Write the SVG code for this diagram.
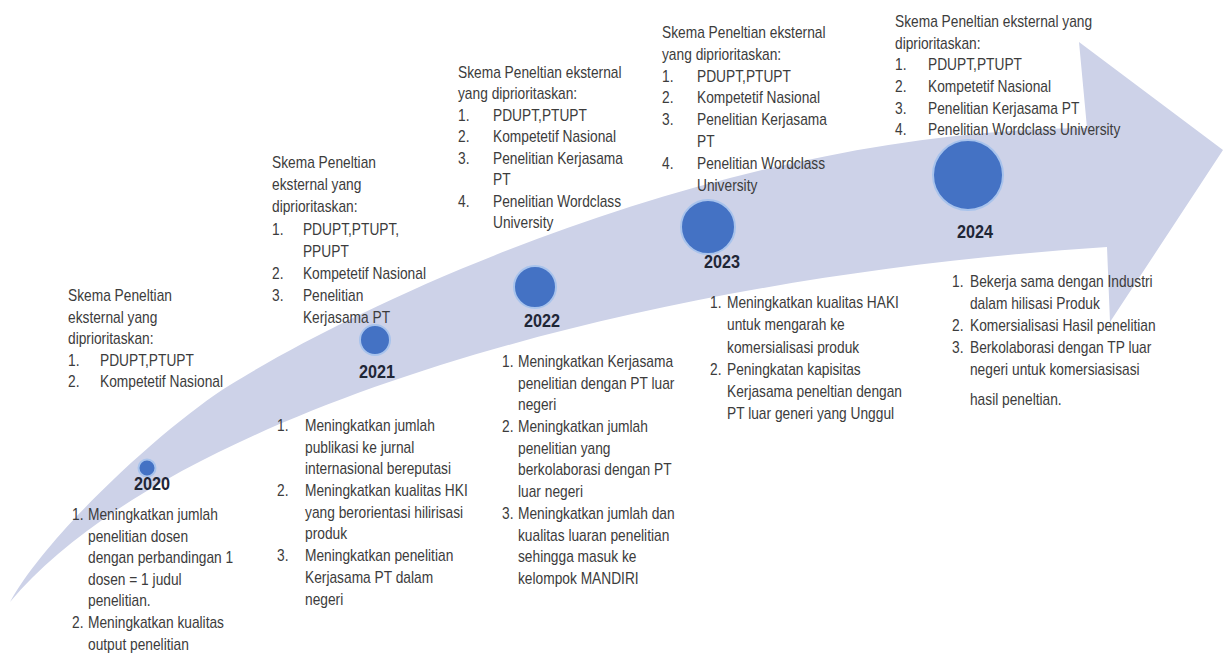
<svg xmlns="http://www.w3.org/2000/svg" width="1223" height="656" viewBox="0 0 1223 656">
<style>
.t{font-family:"Liberation Sans",Arial,sans-serif;font-size:16px;fill:#3c3c3c}
.y{font-family:"Liberation Sans",Arial,sans-serif;font-size:18px;font-weight:bold;fill:#1f2636;text-anchor:middle}
.dot{fill:#4472C4;stroke:#a8c3ec;stroke-width:2}
</style>
<rect width="1223" height="656" fill="#ffffff"/>
<g id="connectors">
<path id="timeline-arrow" d="M 10 602 C 50 530, 170 422, 230 385 C 380 292, 737 130, 1087 128 L 1079 42 L 1223 150 L 1110 322 L 1107 247 C 607 280, 160 422, 10 602 Z" fill="#cdd2e8"/>
</g>
<g id="node-2020">
<circle class="dot" cx="147" cy="468" r="8.5"/>
<text class="y" transform="translate(152 490) scale(0.9 1)">2020</text>
<g transform="translate(68 0) scale(0.86 1)">
<text class="t" x="0" y="301">Skema Peneltian</text>
<text class="t" x="0" y="322.6">eksternal yang</text>
<text class="t" x="0" y="344.2">diprioritaskan:</text>
<text class="t" x="0" y="365.8">1.</text><text class="t" x="37.2" y="365.8">PDUPT,PTUPT</text>
<text class="t" x="0" y="387.4">2.</text><text class="t" x="37.2" y="387.4">Kompetetif Nasional</text>
</g>
<g transform="translate(72 0) scale(0.86 1)">
<text class="t" x="0" y="520">1.</text><text class="t" x="18.6" y="520">Meningkatkan jumlah</text>
<text class="t" x="18.6" y="541.6">penelitian dosen</text>
<text class="t" x="18.6" y="563.2">dengan perbandingan 1</text>
<text class="t" x="18.6" y="584.8">dosen = 1 judul</text>
<text class="t" x="18.6" y="606.4">penelitian.</text>
<text class="t" x="0" y="628">2.</text><text class="t" x="18.6" y="628">Meningkatkan kualitas</text>
<text class="t" x="18.6" y="649.6">output penelitian</text>
</g>
</g>
<g id="node-2021">
<circle class="dot" cx="375" cy="340" r="15"/>
<text class="y" transform="translate(377 378) scale(0.9 1)">2021</text>
<g transform="translate(272 0) scale(0.86 1)">
<text class="t" x="0" y="168">Skema Peneltian</text>
<text class="t" x="0" y="190.2">eksternal yang</text>
<text class="t" x="0" y="212.4">diprioritaskan:</text>
<text class="t" x="0" y="234.6">1.</text><text class="t" x="36" y="234.6">PDUPT,PTUPT,</text>
<text class="t" x="36" y="256.8">PPUPT</text>
<text class="t" x="0" y="279">2.</text><text class="t" x="36" y="279">Kompetetif Nasional</text>
<text class="t" x="0" y="301.2">3.</text><text class="t" x="36" y="301.2">Penelitian</text>
<text class="t" x="36" y="323.4">Kerjasama PT</text>
</g>
<g transform="translate(277 0) scale(0.86 1)">
<text class="t" x="0" y="431">1.</text><text class="t" x="32.6" y="431">Meningkatkan jumlah</text>
<text class="t" x="32.6" y="452.7">publikasi ke jurnal</text>
<text class="t" x="32.6" y="474.4">internasional bereputasi</text>
<text class="t" x="0" y="496.1">2.</text><text class="t" x="32.6" y="496.1">Meningkatkan kualitas HKI</text>
<text class="t" x="32.6" y="517.8">yang berorientasi hilirisasi</text>
<text class="t" x="32.6" y="539.5">produk</text>
<text class="t" x="0" y="561.2">3.</text><text class="t" x="32.6" y="561.2">Meningkatkan penelitian</text>
<text class="t" x="32.6" y="582.9">Kerjasama PT dalam</text>
<text class="t" x="32.6" y="604.6">negeri</text>
</g>
</g>
<g id="node-2022">
<circle class="dot" cx="535" cy="287" r="21"/>
<text class="y" transform="translate(542 327) scale(0.9 1)">2022</text>
<g transform="translate(458 0) scale(0.86 1)">
<text class="t" x="0" y="78">Skema Peneltian eksternal</text>
<text class="t" x="0" y="99.5">yang diprioritaskan:</text>
<text class="t" x="0" y="121">1.</text><text class="t" x="40.7" y="121">PDUPT,PTUPT</text>
<text class="t" x="0" y="142.5">2.</text><text class="t" x="40.7" y="142.5">Kompetetif Nasional</text>
<text class="t" x="0" y="164">3.</text><text class="t" x="40.7" y="164">Penelitian Kerjasama</text>
<text class="t" x="40.7" y="185.5">PT</text>
<text class="t" x="0" y="207">4.</text><text class="t" x="40.7" y="207">Penelitian Wordclass</text>
<text class="t" x="40.7" y="228.5">University</text>
</g>
<g transform="translate(502 0) scale(0.86 1)">
<text class="t" x="0" y="367">1.</text><text class="t" x="18.6" y="367">Meningkatkan Kerjasama</text>
<text class="t" x="18.6" y="388.7">penelitian dengan PT luar</text>
<text class="t" x="18.6" y="410.4">negeri</text>
<text class="t" x="0" y="432.1">2.</text><text class="t" x="18.6" y="432.1">Meningkatkan jumlah</text>
<text class="t" x="18.6" y="453.8">penelitian yang</text>
<text class="t" x="18.6" y="475.5">berkolaborasi dengan PT</text>
<text class="t" x="18.6" y="497.2">luar negeri</text>
<text class="t" x="0" y="518.9">3.</text><text class="t" x="18.6" y="518.9">Meningkatkan jumlah dan</text>
<text class="t" x="18.6" y="540.6">kualitas luaran penelitian</text>
<text class="t" x="18.6" y="562.3">sehingga masuk ke</text>
<text class="t" x="18.6" y="584">kelompok MANDIRI</text>
</g>
</g>
<g id="node-2023">
<circle class="dot" cx="708" cy="227" r="27"/>
<text class="y" transform="translate(722 268) scale(0.9 1)">2023</text>
<g transform="translate(662 0) scale(0.86 1)">
<text class="t" x="0" y="38">Skema Peneltian eksternal</text>
<text class="t" x="0" y="59.8">yang diprioritaskan:</text>
<text class="t" x="0" y="81.6">1.</text><text class="t" x="40.7" y="81.6">PDUPT,PTUPT</text>
<text class="t" x="0" y="103.4">2.</text><text class="t" x="40.7" y="103.4">Kompetetif Nasional</text>
<text class="t" x="0" y="125.2">3.</text><text class="t" x="40.7" y="125.2">Penelitian Kerjasama</text>
<text class="t" x="40.7" y="147">PT</text>
<text class="t" x="0" y="168.8">4.</text><text class="t" x="40.7" y="168.8">Penelitian Wordclass</text>
<text class="t" x="40.7" y="190.6">University</text>
</g>
<g transform="translate(710 0) scale(0.86 1)">
<text class="t" x="0" y="308">1.</text><text class="t" x="19.8" y="308">Meningkatkan kualitas HAKI</text>
<text class="t" x="19.8" y="330.3">untuk mengarah ke</text>
<text class="t" x="19.8" y="352.6">komersialisasi produk</text>
<text class="t" x="0" y="374.9">2.</text><text class="t" x="19.8" y="374.9">Peningkatan kapisitas</text>
<text class="t" x="19.8" y="397.2">Kerjasama peneltian dengan</text>
<text class="t" x="19.8" y="419.5">PT luar generi yang Unggul</text>
</g>
</g>
<g id="node-2024">
<circle class="dot" cx="968" cy="175" r="35"/>
<text class="y" transform="translate(975 238) scale(0.9 1)">2024</text>
<g transform="translate(895 0) scale(0.86 1)">
<text class="t" x="0" y="27">Skema Peneltian eksternal yang</text>
<text class="t" x="0" y="48.7">diprioritaskan:</text>
<text class="t" x="0" y="70.4">1.</text><text class="t" x="38.4" y="70.4">PDUPT,PTUPT</text>
<text class="t" x="0" y="92.1">2.</text><text class="t" x="38.4" y="92.1">Kompetetif Nasional</text>
<text class="t" x="0" y="113.8">3.</text><text class="t" x="38.4" y="113.8">Penelitian Kerjasama PT</text>
<text class="t" x="0" y="135.5">4.</text><text class="t" x="38.4" y="135.5">Penelitian Wordclass University</text>
</g>
<g transform="translate(952 0) scale(0.86 1)">
<text class="t" x="0" y="287">1.</text><text class="t" x="20.9" y="287">Bekerja sama dengan Industri</text>
<text class="t" x="20.9" y="309">dalam hilisasi Produk</text>
<text class="t" x="0" y="331">2.</text><text class="t" x="20.9" y="331">Komersialisasi Hasil penelitian</text>
<text class="t" x="0" y="353">3.</text><text class="t" x="20.9" y="353">Berkolaborasi dengan TP luar</text>
<text class="t" x="20.9" y="375">negeri untuk komersiasisasi</text>
<text class="t" x="20.9" y="405">hasil peneltian.</text>
</g>
</g>
</svg>
